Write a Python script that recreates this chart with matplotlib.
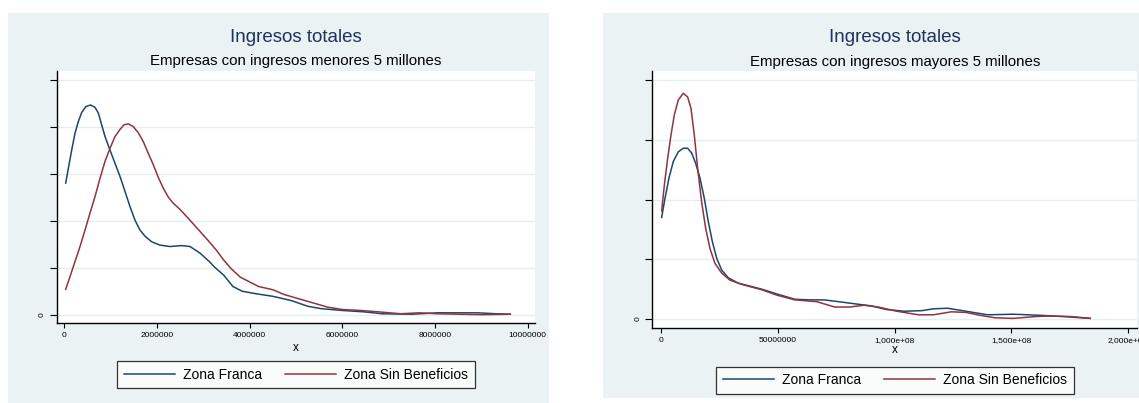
import matplotlib
matplotlib.use("Agg")
import matplotlib.pyplot as plt
from matplotlib.patches import Rectangle
from matplotlib.lines import Line2D

plt.rcParams['font.family'] = ['Liberation Sans', 'DejaVu Sans']

# panel 1: empresas con ingresos menores 5 millones (x en millones, densidad en 1e-7)
izq_franca_x = [0.030, 0.087, 0.159, 0.231, 0.303, 0.375, 0.468, 0.569, 0.662, 0.734,
                0.806, 0.878, 0.986, 1.094, 1.202, 1.310, 1.417, 1.525, 1.633, 1.741,
                1.886, 2.065, 2.281, 2.533, 2.712, 2.928, 3.128,
                3.244, 3.441, 3.638, 3.835, 4.110, 4.504, 4.898, 5.252, 5.528, 6.0,
                6.472, 6.866, 7.496, 8.047, 8.520, 8.913, 9.307, 9.622]
izq_franca_y = [2.80, 3.11, 3.50, 3.86, 4.11, 4.30, 4.43, 4.46, 4.41, 4.29,
                4.04, 3.79, 3.50, 3.22, 2.94, 2.62, 2.30, 2.01, 1.80, 1.67,
                1.55, 1.48, 1.45, 1.47, 1.45, 1.31, 1.13,
                1.01, 0.84, 0.60, 0.50, 0.45, 0.39, 0.30, 0.18, 0.13, 0.09,
                0.06, 0.02, 0.01, 0.04, 0.04, 0.04, 0.02, 0.01]
izq_sinben_x = [0.030, 0.123, 0.231, 0.339, 0.447, 0.554, 0.662, 0.770, 0.878, 0.986,
                1.094, 1.202, 1.288, 1.381, 1.489, 1.597, 1.705, 1.812, 1.920, 2.028,
                2.136, 2.244, 2.352, 2.496, 2.675, 2.856, 3.128,
                3.283, 3.441, 3.598, 3.795, 3.992, 4.189, 4.504, 4.740, 5.055, 5.370,
                5.685, 6.0, 6.394, 6.787, 7.260, 7.654, 8.047, 8.520, 8.992, 9.622]
izq_sinben_y = [0.54, 0.81, 1.13, 1.45, 1.80, 2.16, 2.51, 2.90, 3.26, 3.54,
                3.79, 3.94, 4.04, 4.06, 4.00, 3.87, 3.68, 3.43, 3.19, 2.92,
                2.69, 2.50, 2.37, 2.24, 2.05, 1.85, 1.55,
                1.37, 1.16, 0.98, 0.80, 0.70, 0.60, 0.53, 0.43, 0.34, 0.25,
                0.16, 0.11, 0.09, 0.06, 0.02, 0.04, 0.02, 0.01, 0.00, 0.01]

# panel 2: empresas con ingresos mayores 5 millones (x en millones, densidad en 1e-8)
der_franca_x = [0.28, 1.71, 3.42, 5.28, 7.42, 9.56, 11.41, 13.12, 14.83, 16.70,
                18.55, 20.26, 21.97, 23.83, 25.97, 28.82, 33.10, 43.09,
                49.53, 57.32, 63.55, 69.78, 76.01, 83.80, 90.03,
                96.26, 104.05, 111.84, 116.51, 122.74, 128.97, 139.87, 150.78, 163.24,
                172.58, 183.80]
der_franca_y = [1.70, 2.02, 2.36, 2.64, 2.80, 2.86, 2.86, 2.78, 2.61, 2.36,
                2.02, 1.63, 1.30, 1.02, 0.82, 0.69, 0.60, 0.50,
                0.42, 0.33, 0.32, 0.32, 0.29, 0.25, 0.22,
                0.16, 0.13, 0.14, 0.17, 0.18, 0.14, 0.07, 0.08, 0.06,
                0.04, 0.01]
der_sinben_x = [0.28, 1.43, 2.85, 4.28, 5.71, 7.42, 9.56, 11.41, 12.84, 14.27,
                15.70, 17.41, 19.12, 20.98, 23.12, 25.97, 29.54, 34.53, 43.09,
                49.53, 57.32, 66.67, 74.45, 80.68, 86.91, 93.14,
                100.93, 110.28, 116.51, 124.30, 130.53, 136.76, 142.99, 150.78, 160.12,
                166.35, 175.70, 183.80]
der_sinben_y = [1.81, 2.24, 2.69, 3.08, 3.42, 3.67, 3.78, 3.72, 3.53, 3.08,
                2.52, 1.96, 1.52, 1.18, 0.93, 0.77, 0.65, 0.58, 0.49,
                0.40, 0.32, 0.29, 0.20, 0.20, 0.23, 0.20,
                0.13, 0.07, 0.07, 0.12, 0.11, 0.06, 0.02, 0.01, 0.04,
                0.05, 0.04, 0.01]

titulo = "Ingresos totales"
subtitulos = ["Empresas con ingresos menores 5 millones",
              "Empresas con ingresos mayores 5 millones"]
series = ["Zona Franca", "Zona Sin Beneficios"]
izq_xticks = [0, 2000000, 4000000, 6000000, 8000000, 10000000]
izq_xlabels = ["0", "2000000", "4000000", "6000000", "8000000", "10000000"]
der_xticks = [0, 50000000, 100000000, 150000000, 200000000]
der_xlabels = ["0", "50000000", "1,000e+08", "1,500e+08", "2,000e+08"]

azul = "#1a476f"
rojo = "#90353b"
fondo = "#eaf2f3"

W, H = 1139, 403
fig = plt.figure(figsize=(W / 100, H / 100), dpi=100)
fig.patch.set_facecolor("white")


def px(x0, y0, x1, y1):
    # caja en pixeles (y desde arriba) -> fracciones de figura
    return [x0 / W, 1 - y1 / H, (x1 - x0) / W, (y1 - y0) / H]


# fondos de cada grafico
for x0, y0, x1, y1 in [(8, 13, 549, 403), (603, 13, 1139, 398)]:
    fig.patches.append(Rectangle((x0 / W, 1 - y1 / H), (x1 - x0) / W, (y1 - y0) / H,
                                 transform=fig.transFigure, facecolor=fondo,
                                 edgecolor="none", zorder=-5))


def panel(rect, xs, ys, escala, ymax, xlim, ylim, xticks, xlabels, sub, cx, ty, sy, xly, ley):
    ax = fig.add_axes(px(*rect))
    ax.set_zorder(2)
    ax.set_facecolor("white")
    for y in range(ymax + 1):
        ax.axhline(y * escala, color="#e4edf1", lw=1.0, zorder=1)
    ax.plot([v * 1e6 for v in xs[0]], [v * escala for v in ys[0]], color=azul, lw=1.1, zorder=3)
    ax.plot([v * 1e6 for v in xs[1]], [v * escala for v in ys[1]], color=rojo, lw=1.1, zorder=3)
    ax.set_xlim(xlim)
    ax.set_ylim(ylim[0] * escala, ylim[1] * escala)
    ax.set_xticks(xticks)
    ax.set_xticklabels(xlabels, fontsize=6)
    ax.set_yticks([y * escala for y in range(ymax + 1)])
    ax.set_yticklabels(["0"] + [""] * ymax, fontsize=6, rotation=90, va="center")
    ax.tick_params(axis="x", length=3.6, width=0.8, pad=3)
    ax.tick_params(axis="y", length=5, width=0.8, pad=3)
    for s in ["top", "right"]:
        ax.spines[s].set_visible(False)
    for s in ["left", "bottom"]:
        ax.spines[s].set_linewidth(1.0)
    fig.text(cx / W, 1 - ty / H, titulo, ha="center", va="center",
             fontsize=13.5, color="#1e3160")
    fig.text(cx / W, 1 - sy / H, sub, ha="center", va="center", fontsize=10.8, color="black")
    fig.text(cx / W, 1 - xly / H, "x", ha="center", va="center", fontsize=8.5, color="black")
    handles = [Line2D([], [], color=azul, lw=1.1), Line2D([], [], color=rojo, lw=1.1)]
    leg = fig.legend(handles, series, loc="center", bbox_to_anchor=(cx / W, 1 - ley / H),
                     ncol=2, fontsize=10, frameon=True, fancybox=False,
                     handlelength=3.7, handletextpad=0.6, columnspacing=1.6,
                     borderpad=0.45, borderaxespad=0)
    leg.get_frame().set_edgecolor("black")
    leg.get_frame().set_linewidth(0.9)
    return ax


panel((56.7, 70.7, 535, 323.3), [izq_franca_x, izq_sinben_x], [izq_franca_y, izq_sinben_y],
      1e-7, 5, (-0.164e6, 10.155e6), (-0.183, 5.19), izq_xticks, izq_xlabels,
      subtitulos[0], 296, 38, 61, 348, 374.7)
panel((652.3, 71, 1137, 327.7), [der_franca_x, der_sinben_x], [der_franca_y, der_sinben_y],
      1e-8, 4, (-3.72e6, 203.8e6), (-0.146, 4.154), der_xticks, der_xlabels,
      subtitulos[1], 895, 38, 62, 350, 380.3)

fig.savefig("out.png", dpi=100, facecolor="white")
